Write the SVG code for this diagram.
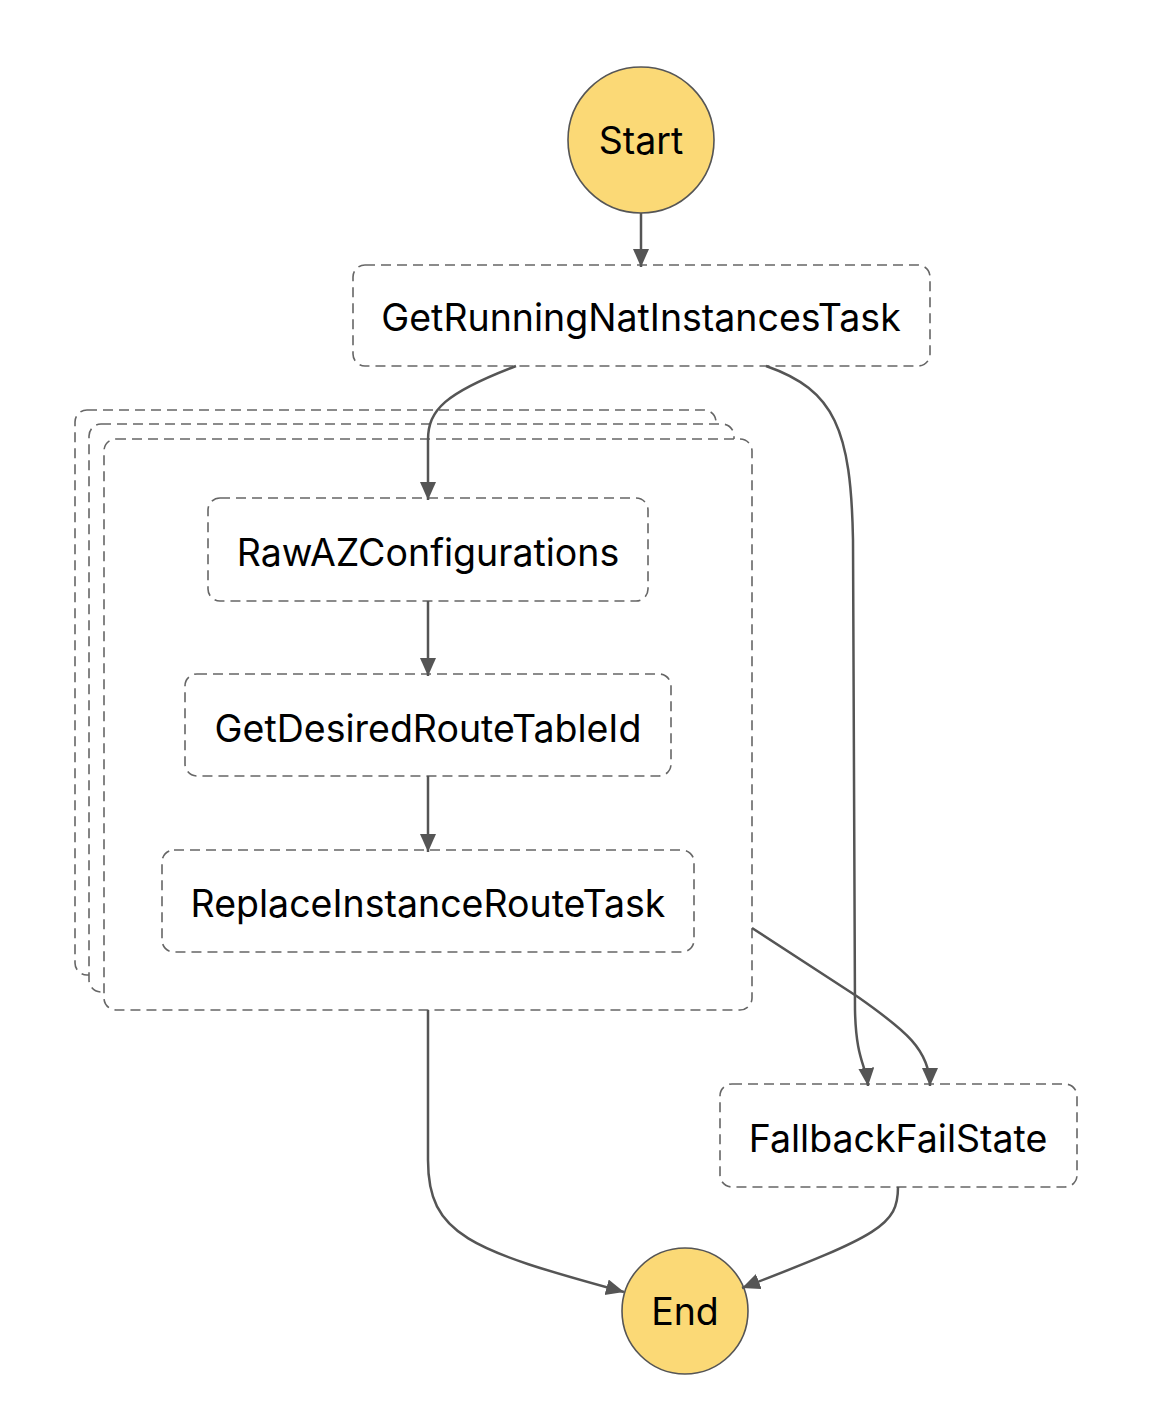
<svg xmlns="http://www.w3.org/2000/svg" width="1152" height="1428" viewBox="0 0 1152 1428">
<defs>
<style>
.state{fill:#fff;stroke:#666;stroke-width:1.6;stroke-dasharray:10 6}
.map{fill:#fff;stroke:#666;stroke-width:1.6;stroke-dasharray:10 6}
.term{fill:#FBD976;stroke:#555;stroke-width:1.6}
.lbl{font-family:Inter,"Liberation Sans",sans-serif;font-size:37.5px;fill:#000;text-anchor:middle}
.edge{fill:none;stroke:#555;stroke-width:2.5}
</style>
<marker id="arr" markerUnits="userSpaceOnUse" markerWidth="19" markerHeight="17" refX="18" refY="8" orient="auto">
<path d="M0,0 L18,8 L0,16 z" fill="#555"/>
</marker>
</defs>
<rect width="1152" height="1428" fill="#fff"/>
<g id="start">
<circle class="term" cx="641" cy="140" r="73"/>
<text class="lbl" x="641" y="154">Start</text>
</g>
<g id="getRunningNatInstancesTask">
<rect class="state" x="353" y="265" width="577" height="101" rx="12"/>
<text class="lbl" x="641" y="331">GetRunningNatInstancesTask</text>
</g>
<g id="map">
<rect class="map" x="75" y="410" width="641" height="565" rx="12"/>
<rect class="map" x="89" y="424" width="645" height="568" rx="12"/>
<rect class="map" x="104" y="439" width="648" height="571" rx="12"/>
</g>
<g id="rawAZConfigurations">
<rect class="state" x="208" y="498" width="440" height="103" rx="12"/>
<text class="lbl" x="428" y="566">RawAZConfigurations</text>
</g>
<g id="getDesiredRouteTableId">
<rect class="state" x="185" y="674" width="486" height="102" rx="12"/>
<text class="lbl" x="428" y="742">GetDesiredRouteTableId</text>
</g>
<g id="replaceInstanceRouteTask">
<rect class="state" x="162" y="850" width="532" height="102" rx="12"/>
<text class="lbl" x="428" y="917">ReplaceInstanceRouteTask</text>
</g>
<g id="fallbackFailState">
<rect class="state" x="720" y="1084" width="357" height="103" rx="12"/>
<text class="lbl" x="898" y="1152">FallbackFailState</text>
</g>
<g id="end">
<circle class="term" cx="685" cy="1311" r="63"/>
<text class="lbl" x="685" y="1325">End</text>
</g>
<g id="connectors">
<path class="edge" marker-end="url(#arr)" d="M641,213 L641,267"/>
<path class="edge" marker-end="url(#arr)" d="M516,366 C445,393 428,410 428,440 L428,500"/>
<path class="edge" marker-end="url(#arr)" d="M766,366 C835,390 851,430 853,540 L855,1010 C856,1060 866,1065 868,1086"/>
<path class="edge" marker-end="url(#arr)" d="M428,601 L428,676"/>
<path class="edge" marker-end="url(#arr)" d="M428,776 L428,852"/>
<path class="edge" marker-end="url(#arr)" d="M752,928 L858,997 C905,1030 930,1050 930,1086"/>
<path class="edge" marker-end="url(#arr)" d="M428,1010 L428,1160 C428,1235 470,1250 624,1292"/>
<path class="edge" marker-end="url(#arr)" d="M898,1187 C898,1225 880,1235 742,1288"/>
</g>
</svg>
